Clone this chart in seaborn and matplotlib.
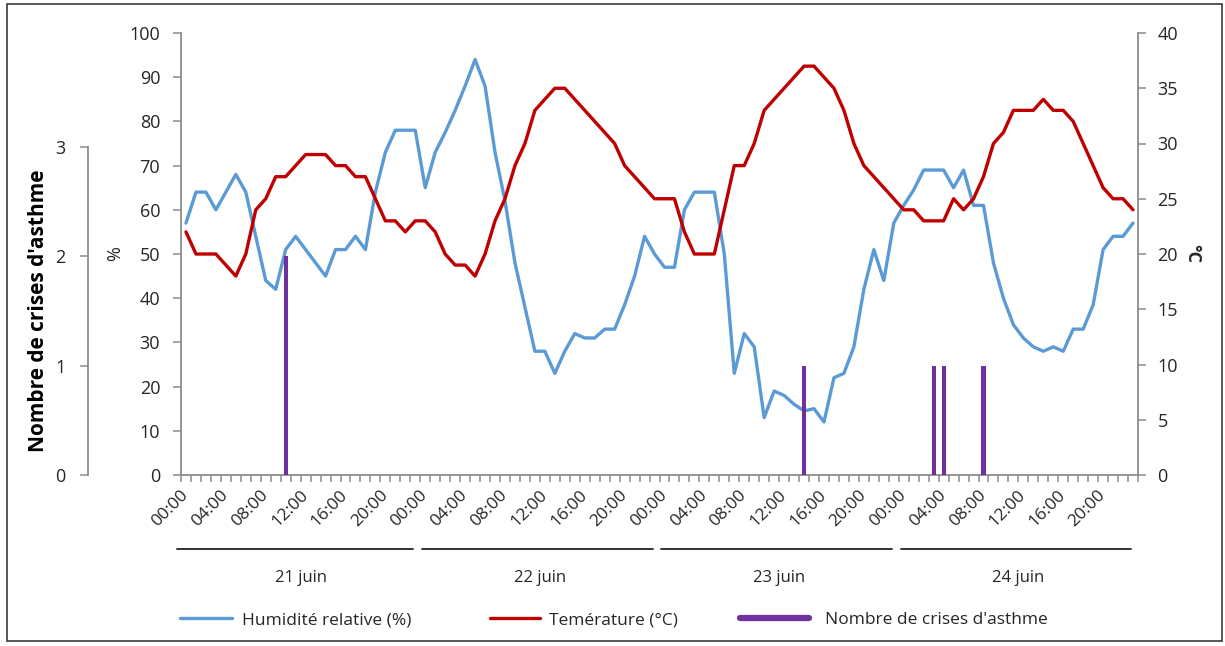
import numpy as np
import pandas as pd
import matplotlib
matplotlib.use("Agg")
import matplotlib.pyplot as plt
import matplotlib.transforms as mtransforms
from matplotlib.lines import Line2D
from matplotlib.patches import Rectangle
import seaborn as sns

# ---------------- data ----------------
days = ["21 juin", "22 juin", "23 juin", "24 juin"]
hour_labels = ["00:00", "04:00", "08:00", "12:00", "16:00", "20:00"]

humidity = [
    57, 64, 64, 60, 64, 68, 64, 54, 44, 42, 51, 54, 51, 48, 45, 51, 51, 54, 51, 64, 73, 78, 78, 78,
    65, 73, 77.5, 82.5, 88, 94, 88, 73, 62, 48, 38, 28, 28, 23, 28, 32, 31, 31, 33, 33, 38.5, 45, 54, 50,
    47, 47, 60, 64, 64, 64, 50, 23, 32, 29, 13, 19, 18, 16, 14.5, 15, 12, 22, 23, 29, 42, 51, 44, 57,
    61, 64.5, 69, 69, 69, 65, 69, 61, 61, 48, 40, 34, 31, 29, 28, 29, 28, 33, 33, 38.5, 51, 54, 54, 57,
]
temperature = [
    22, 20, 20, 20, 19, 18, 20, 24, 25, 27, 27, 28, 29, 29, 29, 28, 28, 27, 27, 25, 23, 23, 22, 23,
    23, 22, 20, 19, 19, 18, 20, 23, 25, 28, 30, 33, 34, 35, 35, 34, 33, 32, 31, 30, 28, 27, 26, 25,
    25, 25, 22, 20, 20, 20, 24, 28, 28, 30, 33, 34, 35, 36, 37, 37, 36, 35, 33, 30, 28, 27, 26, 25,
    24, 24, 23, 23, 23, 25, 24, 25, 27, 30, 31, 33, 33, 33, 34, 33, 33, 32, 30, 28, 26, 25, 25, 24,
]
crisis_day = [0, 2, 3, 3, 3]
crisis_hour = [10, 14, 3, 4, 8]
crisis_count = [2, 1, 1, 1, 1]

series_names = ["Humidité relative (%)", "Temérature (°C)", "Nombre de crises d'asthme"]

# ---------------- style ----------------
BLUE = "#5B9BD5"
RED = "#C00000"
PURPLE = "#7030A0"
AXIS = "#8C8C8C"
TXT = "#262626"

sns.set_theme(style="white")
plt.rcParams["font.family"] = ["Open Sans", "DejaVu Sans"]

W, H = 1225, 646
fig = plt.figure(figsize=(W / 100, H / 100), dpi=100)


def fx(px):
    return px / W


def fy(py):
    return 1 - py / H


# outer frame
fig.patches.append(Rectangle((fx(7), fy(641)), fx(1222) - fx(7), fy(4) - fy(641),
                             transform=fig.transFigure, fill=False,
                             edgecolor="#3a3a3a", lw=1.2))

n = len(humidity)
hours_per_day = n // len(days)
df = pd.DataFrame({"t": np.arange(n), "hum": humidity, "temp": temperature})
crisis_df = pd.DataFrame({
    "t": [d * hours_per_day + h for d, h in zip(crisis_day, crisis_hour)],
    "count": crisis_count,
})

TICK_FS = 13

# main axes (%)
ax = fig.add_axes([fx(181), fy(475), fx(1138) - fx(181), fy(33) - fy(475)])
sns.lineplot(data=df, x="t", y="hum", ax=ax, color=BLUE, lw=2.4)
ax.set_xlim(-0.5, n - 0.5)
ax.set_ylim(0, 100)
ax.set_yticks(np.arange(0, 101, 10))
ax.set_ylabel("%", fontsize=13, color=TXT, labelpad=4)
ax.set_xlabel("")

# x ticks: one mark per hour, labels every 4 hours
ax.set_xticks(np.arange(-0.5, n, 1))
ax.set_xticklabels([])
label_pos = np.arange(0, n, 4)
ax.set_xticks(label_pos, minor=True)
ax.set_xticklabels(hour_labels * len(days), minor=True, rotation=45,
                   ha="right", va="center", rotation_mode="anchor",
                   fontsize=12.5, color=TXT)
ax.tick_params(axis="x", which="major", bottom=True, length=5, width=1.1,
               color=AXIS, direction="out")
ax.tick_params(axis="x", which="minor", bottom=True, length=0, pad=13)
ax.tick_params(axis="y", left=True, length=6, width=1.1, color=AXIS, direction="out",
               labelsize=TICK_FS, labelcolor=TXT, pad=9)
for s in ["top", "right"]:
    ax.spines[s].set_visible(False)
for s in ["left", "bottom"]:
    ax.spines[s].set_color(AXIS)
    ax.spines[s].set_linewidth(1.3)

# temperature axis (right)
axT = ax.twinx()
sns.lineplot(data=df, x="t", y="temp", ax=axT, color=RED, lw=2.4)
axT.set_ylim(0, 40)
axT.set_yticks(np.arange(0, 41, 5))
axT.set_ylabel("°C", fontsize=13, color=TXT, rotation=-90, labelpad=17, fontweight="bold")
axT.tick_params(axis="y", right=True, length=6, width=1.1, color=AXIS, direction="out",
                labelsize=TICK_FS, labelcolor=TXT, pad=8)
for s in ["top", "left", "bottom"]:
    axT.spines[s].set_visible(False)
axT.spines["right"].set_color(AXIS)
axT.spines["right"].set_linewidth(1.3)

# crisis bars (count scale displayed on the outer left axis)
count_top_px, count_zero_px = 147, 475
axB = ax.twinx()
axB.bar(crisis_df["t"], crisis_df["count"], width=0.42, color=PURPLE, linewidth=0)
axB.set_ylim(0, 3 * (475 - 33) / (count_zero_px - count_top_px))
axB.set_axis_off()

# outer count axis
axC = fig.add_axes([fx(88), fy(count_zero_px), 0.0005, fy(count_top_px) - fy(count_zero_px)])
axC.set_ylim(0, 3)
axC.set_yticks([0, 1, 2, 3])
axC.set_xticks([])
axC.patch.set_visible(False)
for s in ["top", "right", "bottom"]:
    axC.spines[s].set_visible(False)
axC.spines["left"].set_color(AXIS)
axC.spines["left"].set_linewidth(1.3)
axC.tick_params(axis="y", left=True, length=6, width=1.1, color=AXIS, direction="out",
                labelsize=TICK_FS, labelcolor=TXT, pad=10)
axC.set_ylabel("Nombre de crises d'asthme", fontsize=15, fontweight="bold",
               color="black", labelpad=5)

# day brackets under the time axis
trans = mtransforms.blended_transform_factory(ax.transData, ax.transAxes)
for d, name in enumerate(days):
    start = d * hours_per_day - 0.5
    end = start + hours_per_day
    ax.plot([start - 0.4 if d == 0 else start + 0.2, end - 0.7], [-0.167, -0.167],
            transform=trans, color="#222222", lw=1.3, clip_on=False)
    ax.text((start + end) / 2, -0.232, name, transform=trans, ha="center",
            va="center", fontsize=12, color=TXT)

# legend entries (one legend per series, laid out like the original)
entries = [
    (Line2D([], [], color=BLUE, lw=2.4), series_names[0], 180, 3.0, 0.55),
    (Line2D([], [], color=RED, lw=2.4), series_names[1], 490, 2.9, 0.5),
    (Line2D([], [], color=PURPLE, lw=4.5), series_names[2], 740, 4.0, 0.9),
]
for handle, name, x0, hl, htp in entries:
    fig.legend([handle], [name], loc="center left",
               bbox_to_anchor=(fx(x0), fy(620)), frameon=False, fontsize=12.5,
               handlelength=hl, handletextpad=htp, borderpad=0, borderaxespad=0,
               labelcolor=TXT)

fig.savefig("out.png", dpi=100)
